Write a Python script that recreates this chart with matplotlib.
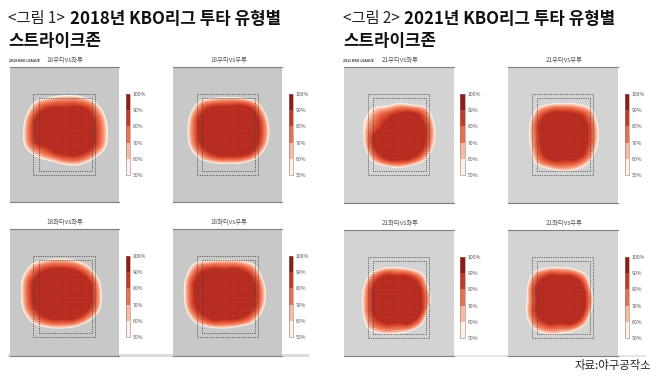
import numpy as np
import matplotlib
matplotlib.use('Agg')
import matplotlib.pyplot as plt
from matplotlib.colors import ListedColormap, BoundaryNorm
from matplotlib.colorbar import ColorbarBase
from matplotlib.patches import PathPatch, Rectangle
from matplotlib.path import Path

plt.rcParams['font.family'] = ['Noto Sans CJK KR', 'DejaVu Sans']

W, H = 658, 378

### data
titles = ['18우타vs좌투', '18우타vs우투', '18좌타vs좌투', '18좌타vs우투',
          '21우타vs좌투', '21우타vs우투', '21좌타vs좌투', '21좌타vs우투']
cbar_levels = [50, 60, 70, 80, 90, 100]
cbar_labels = ['50%', '60%', '70%', '80%', '90%', '100%']
cbar_colors = ['#FFF1E8', '#F8B9A2', '#E9704F', '#C5392A', '#8C1C16']

# contour centres inside each panel, pixels from panel top left
centers = [(55.5, 64), (55.5, 64), (52.5, 65.5), (52, 65.5),
           (55.5, 68), (56, 69), (53, 70), (52.5, 70)]

# 50% and 90% contours: distance from centre every 22.5 degrees, counter clockwise from east
outer = [
    [43, 43, 42, 38, 36, 37, 42, 42, 42, 43, 38, 33, 34, 37, 40, 44],
    [41, 41, 41, 36, 34, 36, 42, 42, 41, 42, 40, 35, 33, 35, 39, 41],
    [40, 40, 39, 37, 36, 38, 43, 43, 41, 42, 41, 36, 34, 35, 38, 41],
    [41, 41, 42, 37, 35, 37, 44, 43, 41, 42, 41, 36, 34, 35, 40, 41],
    [36, 37, 39, 33, 32, 32, 38, 38, 36, 37, 38, 34, 33, 33, 36, 36],
    [35, 36, 39, 35, 33, 35, 39, 37, 35, 36, 40, 36, 36, 36, 37, 35],
    [34, 34, 37, 34, 33, 35, 38, 36, 35, 37, 41, 37, 34, 34, 35, 33],
    [33, 33, 36, 34, 33, 35, 39, 36, 34, 37, 40, 37, 34, 34, 35, 33],
]
core = [
    [30, 31, 31, 27, 24, 26, 30, 32, 31, 31, 24, 24, 24, 27, 30, 32],
    [31, 32, 32, 28, 25, 27, 31, 32, 30, 31, 29, 27, 25, 27, 31, 32],
    [30, 31, 29, 27, 26, 28, 31, 32, 30, 31, 29, 27, 25, 27, 29, 31],
    [31, 32, 31, 28, 25, 28, 32, 33, 31, 32, 30, 28, 25, 27, 30, 32],
    [26, 27, 28, 25, 22, 21, 20, 20, 26, 28, 28, 27, 25, 26, 27, 27],
    [24, 26, 27, 25, 24, 26, 28, 27, 24, 26, 28, 27, 24, 26, 27, 25],
    [25, 26, 27, 26, 24, 27, 28, 27, 25, 27, 28, 26, 23, 26, 27, 27],
    [25, 26, 27, 26, 24, 27, 28, 27, 24, 27, 28, 26, 23, 26, 27, 26],
]
# how far each drawn contour sits from the 50% line to the 90% line
band_steps = [0.0, 0.06, 0.14, 0.24, 0.36, 0.5, 0.64, 0.78, 0.9, 1.0]
band_colors = ['#FFF4EC', '#FFE0CF', '#FBC3AB', '#F6A387', '#F08264',
               '#E86A48', '#DF5236', '#D4432C', '#C73625', '#B72A1E']

# panel boxes in image pixels: left, top, right, bottom
panels = [(9.5, 67, 119, 202), (173, 67, 282, 202), (9.5, 229, 119, 356), (173, 229, 282, 356),
          (344, 67, 454, 203), (508, 67, 618, 203), (344, 230, 454, 356), (508, 230, 618, 356)]
panel_colors = ['#C8C8C8'] * 4 + ['#D3D3D3'] * 4


fig = plt.figure(figsize=(W / 100, H / 100), dpi=100, facecolor='white')


def add_px_axes(l, t, r, b):
    return fig.add_axes([l / W, 1 - b / H, (r - l) / W, (b - t) / H])


def blob_path(cx, cy, radii):
    # closed smooth curve through the contour points
    ang = np.deg2rad(np.arange(len(radii)) * 22.5)
    pts = np.column_stack([cx + np.array(radii) * np.cos(ang), cy - np.array(radii) * np.sin(ang)])
    n = len(pts)
    verts = [pts[0]]
    codes = [Path.MOVETO]
    for i in range(n):
        p0, p1, p2, p3 = pts[i - 1], pts[i], pts[(i + 1) % n], pts[(i + 2) % n]
        verts += [p1 + (p2 - p0) / 6, p2 - (p3 - p1) / 6, p2]
        codes += [Path.CURVE4] * 3
    return Path(verts, codes)


cmap = ListedColormap(cbar_colors)
norm = BoundaryNorm(cbar_levels, cmap.N)

for i in range(8):
    l, t, r, b = panels[i]
    ax = add_px_axes(l, t, r, b)
    ax.set_xlim(0, r - l)
    ax.set_ylim(b - t, 0)
    ax.set_facecolor(panel_colors[i])
    ax.set_xticks([])
    ax.set_yticks([])
    for side in ['left', 'right']:
        ax.spines[side].set_visible(False)
    for side in ['top', 'bottom']:
        ax.spines[side].set_color('#7F7F7F')
        ax.spines[side].set_linewidth(0.8)

    cx, cy = centers[i]
    o = np.array(outer[i], dtype=float)
    c = np.array(core[i], dtype=float)
    clip = None
    for step, col in zip(band_steps, band_colors):
        patch = PathPatch(blob_path(cx, cy, o + (c - o) * step), facecolor=col, edgecolor='none')
        ax.add_patch(patch)
        clip = patch

    # fine mesh over the zones
    for gx in np.arange(10, 105, 4.5):
        ln = ax.axvline(gx, color='white', lw=0.25, alpha=0.1)
        ln.set_clip_path(clip)
    for gy in np.arange(10, 125, 4.5):
        ln = ax.axhline(gy, color='white', lw=0.25, alpha=0.1)
        ln.set_clip_path(clip)

    # strike zones
    ax.add_patch(Rectangle((23.5, 27), 61.5, 81, fill=False, ec='#444444', lw=0.55, ls=(0, (1.5, 1.5))))
    ax.add_patch(Rectangle((29, 31), 53, 73, fill=False, ec='#444444', lw=0.55, ls=(0, (1.5, 1.5))))

    ax.text((r - l) / 2 + 1, -3, titles[i], ha='center', va='bottom', fontsize=4.6, color='#555555')

    # colour bar
    cax = add_px_axes(r + 6.5, t + 27, r + 11, t + 108)
    cb = ColorbarBase(cax, cmap=cmap, norm=norm, ticks=cbar_levels, spacing='uniform')
    cb.ax.set_yticklabels(cbar_labels)
    cb.ax.tick_params(length=0, pad=2, labelsize=3.7, labelcolor='#555555')
    cb.outline.set_edgecolor('#9A8070')
    cb.outline.set_linewidth(0.4)

# tiny header stamps over the first panel of each figure
fig.text(9 / W, 1 - 60.5 / H, '2018 KBO LEAGUE', fontsize=2.5, color='#333333', va='center', fontweight='bold')
fig.text(343 / W, 1 - 60.5 / H, '2021 KBO LEAGUE', fontsize=2.5, color='#333333', va='center', fontweight='bold')

# faded strip under the lower panels
fig.add_artist(Rectangle((8 / W, 1 - 357 / H), 301 / W, 3 / H, transform=fig.transFigure, fc='#DADADA', ec='none', zorder=-1))
fig.add_artist(Rectangle((344 / W, 1 - 357 / H), 302 / W, 2 / H, transform=fig.transFigure, fc='#E6E6E6', ec='none', zorder=-1))

# headings
fig.text(8 / W, 1 - 19 / H, '<그림 1>', fontsize=11, color='#222222', va='center')
fig.text(70 / W, 1 - 19 / H, '2018년 KBO리그 투타 유형별', fontsize=12.1, color='#111111', va='center', fontweight='bold')
fig.text(8 / W, 1 - 41 / H, '스트라이크존', fontsize=12.1, color='#111111', va='center', fontweight='bold')
fig.text(343 / W, 1 - 19 / H, '<그림 2>', fontsize=11, color='#222222', va='center')
fig.text(404 / W, 1 - 19 / H, '2021년 KBO리그 투타 유형별', fontsize=12.1, color='#111111', va='center', fontweight='bold')
fig.text(343 / W, 1 - 41 / H, '스트라이크존', fontsize=12.1, color='#111111', va='center', fontweight='bold')

fig.text(651 / W, 1 - 366 / H, '자료:야구공작소', fontsize=8.2, color='#222222', va='center', ha='right')

fig.savefig('out.png', dpi=100)
